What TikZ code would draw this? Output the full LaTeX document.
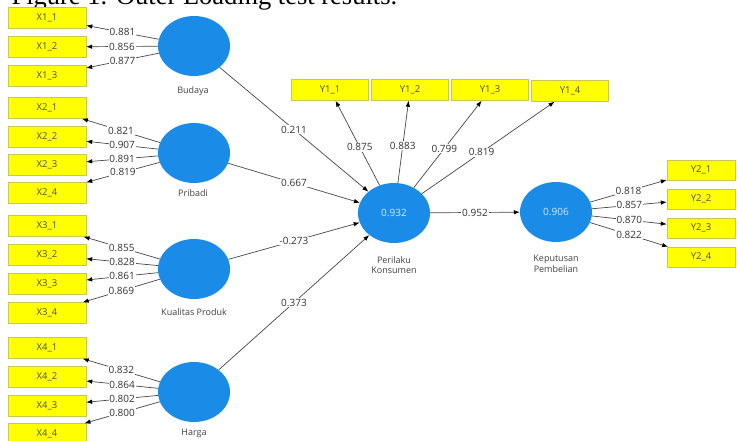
\documentclass[tikz,border=0pt]{standalone}
\usepackage{fontspec}
\setmainfont{Liberation Serif}
\newfontfamily\plsfont{Open Sans}
\usepackage{tikz}
\usetikzlibrary{arrows.meta,shapes.geometric}
\definecolor{lvblue}{HTML}{1A8CE8}
\definecolor{indyellow}{HTML}{FFFF00}
\definecolor{indedge}{HTML}{C8C850}
\definecolor{pathgray}{HTML}{464646}

\begin{document}
\begin{tikzpicture}[x=1pt,y=-1pt,>={Latex[length=6pt,width=4.5pt,color=black]},
  ind/.style={draw=indedge,fill=indyellow,minimum width=78pt,minimum height=21pt,inner sep=0pt,font=\plsfont\fontsize{9.5}{11}\selectfont,text=black!70},
  lv/.style={ellipse,fill=lvblue,minimum width=72pt,minimum height=60pt,inner sep=0pt,font=\plsfont\fontsize{10}{11}\selectfont,text=white!80!lvblue},
  lvname/.style={font=\plsfont\fontsize{9}{10.5}\selectfont,text=black!75,align=center},
  load/.style={fill=white,inner sep=0.8pt,font=\plsfont\fontsize{10}{11}\selectfont,text=black!80},
  arr/.style={->,draw=pathgray,line width=0.7pt}]
\useasboundingbox (0,0) rectangle (737,441);
\node[anchor=base west,font=\fontsize{26.5}{28}\selectfont] (title) at (8,5) {Figure 1. Outer Loading test results.};
% indicators
\node[ind] (x11) at (47,18) {X1\_1};
\node[ind] (x12) at (47,47) {X1\_2};
\node[ind] (x13) at (47,76) {X1\_3};
\node[ind] (x21) at (47,108) {X2\_1};
\node[ind] (x22) at (47,137) {X2\_2};
\node[ind] (x23) at (47,165) {X2\_3};
\node[ind] (x24) at (47,193) {X2\_4};
\node[ind] (x31) at (47,226) {X3\_1};
\node[ind] (x32) at (47,255) {X3\_2};
\node[ind] (x33) at (47,284) {X3\_3};
\node[ind] (x34) at (47,313) {X3\_4};
\node[ind] (x41) at (47,348) {X4\_1};
\node[ind] (x42) at (47,377) {X4\_2};
\node[ind] (x43) at (47,406) {X4\_3};
\node[ind] (x44) at (47,434) {X4\_4};
\node[ind,minimum width=77pt] (y11) at (330,90) {Y1\_1};
\node[ind,minimum width=77pt] (y12) at (410,90) {Y1\_2};
\node[ind,minimum width=77pt] (y13) at (490,90) {Y1\_3};
\node[ind,minimum width=77pt] (y14) at (570,91) {Y1\_4};
\node[ind,minimum width=68pt,minimum height=20pt] (y21) at (701,170) {Y2\_1};
\node[ind,minimum width=68pt,minimum height=20pt] (y22) at (701,199) {Y2\_2};
\node[ind,minimum width=68pt,minimum height=20pt] (y23) at (701,228) {Y2\_3};
\node[ind,minimum width=68pt,minimum height=20pt] (y24) at (701,257) {Y2\_4};
% latent variables
\node[lv] (bud) at (194,46) {};
\node[lvname] (budname) at (193,91) {Budaya};
\node[lv] (pri) at (194,153) {};
\node[lvname] (priname) at (193,193) {Pribadi};
\node[lv] (kua) at (194,269) {};
\node[lvname] (kuaname) at (194,312) {Kualitas Produk};
\node[lv] (har) at (194,392) {};
\node[lvname] (harname) at (194,433) {Harga};
\node[lv] (pk) at (394,213) {0.932};
\node[lvname] (pkname) at (394,265) {Perilaku\\Konsumen};
\node[lv] (kp) at (556,212) {0.906};
\node[lvname] (kpname) at (556,264) {Keputusan\\Pembelian};
% outer loadings
\draw[arr] (bud) -- node[load]{0.881} (x11);
\draw[arr] (bud) -- node[load]{0.856} (x12);
\draw[arr] (bud) -- node[load]{0.877} (x13);
\draw[arr] (pri) -- node[load]{0.821} (x21);
\draw[arr] (pri) -- node[load]{0.907} (x22);
\draw[arr] (pri) -- node[load]{0.891} (x23);
\draw[arr] (pri) -- node[load]{0.819} (x24);
\draw[arr] (kua) -- node[load]{0.855} (x31);
\draw[arr] (kua) -- node[load]{0.828} (x32);
\draw[arr] (kua) -- node[load]{0.861} (x33);
\draw[arr] (kua) -- node[load]{0.869} (x34);
\draw[arr] (har) -- node[load]{0.832} (x41);
\draw[arr] (har) -- node[load]{0.864} (x42);
\draw[arr] (har) -- node[load]{0.802} (x43);
\draw[arr] (har) -- node[load]{0.800} (x44);
\draw[arr] (pk) -- node[load,pos=0.45]{0.875} (y11);
\draw[arr] (pk) -- node[load,pos=0.45]{0.883} (y12);
\draw[arr] (pk) -- node[load,pos=0.45]{0.799} (y13);
\draw[arr] (pk) -- node[load,pos=0.45]{0.819} (y14);
\draw[arr] (kp) -- node[load]{0.818} (y21);
\draw[arr] (kp) -- node[load]{0.857} (y22);
\draw[arr] (kp) -- node[load]{0.870} (y23);
\draw[arr] (kp) -- node[load]{0.822} (y24);
% inner paths
\draw[arr] (bud) -- node[load]{0.211} (pk);
\draw[arr] (pri) -- node[load]{0.667} (pk);
\draw[arr] (kua) -- node[load]{-0.273} (pk);
\draw[arr] (har) -- node[load]{0.373} (pk);
\draw[arr] (pk) -- node[load]{0.952} (kp);
\end{tikzpicture}
\end{document}
